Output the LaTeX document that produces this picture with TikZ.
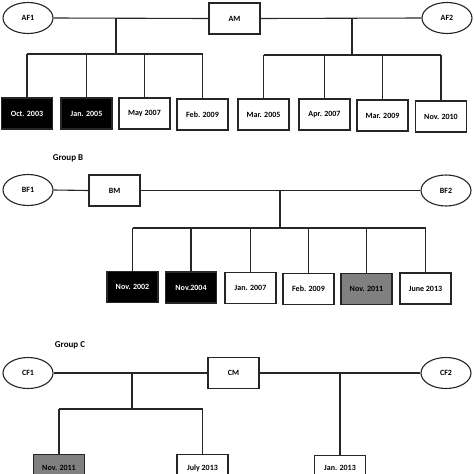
\documentclass[tikz,border=0pt]{standalone}
\usepackage{fontspec}
\setmainfont{Carlito}
\usetikzlibrary{shapes.geometric}
\begin{document}
\begin{tikzpicture}[x=1pt,y=-1pt,
  lw/.style={line width=1.1pt, draw=black!85},
  box/.style={lw, rectangle, minimum width=51pt, minimum height=31pt, inner sep=0pt, font=\bfseries\fontsize{8}{9.5}\selectfont, fill=white},
  dark/.style={box, fill=black, text=white},
  grey/.style={box, fill=black!50, text=black},
  fem/.style={lw, ellipse, minimum width=50pt, minimum height=31pt, inner sep=0pt, font=\bfseries\fontsize{8}{9.5}\selectfont},
  grp/.style={font=\bfseries\fontsize{9}{11}\selectfont},
  conn/.style={lw}]
\useasboundingbox (0,0) rectangle (474,474);
\clip (0,0) rectangle (474,474);
% ---------- Group A ----------
\node[fem] (af1) at (28,18) {AF1};
\node[box] (am) at (234.5,18.5) {AM};
\node[fem] (af2) at (447,18) {AF2};
\draw[conn] (af1.east) -- (am.west);
\draw[conn] (am.east) -- (af2.west);
\node[dark] (a1) at (27,113.5) {Oct. 2003};
\node[dark] (a2) at (86.5,113.5) {Jan. 2005};
\node[box] (a3) at (144.5,113.5) {May 2007};
\node[box] (a4) at (202.5,114.5) {Feb. 2009};
\node[box] (a5) at (263.5,114.5) {Mar. 2005};
\node[box] (a6) at (324.5,114.5) {Apr. 2007};
\node[box] (a7) at (382.5,115.5) {Mar. 2009};
\node[box] (a8) at (441,116.5) {Nov. 2010};
\coordinate (aj1) at (116,18);
\coordinate (ab1) at (116,54);
\coordinate (aj2) at (352,18);
\coordinate (ab2) at (352,55);
\draw[conn] (aj1) -- (ab1);
\draw[conn] (aj2) -- (ab2);
\draw[conn] (a1.north |- ab1) -- (a4.north |- ab1);
\draw[conn] (a5.north |- ab2) -- (a8.north |- ab2);
\foreach \c in {a1,a2,a3,a4} \draw[conn] (\c.north) -- (\c.north |- ab1);
\foreach \c in {a5,a6,a7,a8} \draw[conn] (\c.north) -- (\c.north |- ab2);
% ---------- Group B ----------
\node[grp] (gb) at (68,158) {Group B};
\node[fem] (bf1) at (28,190) {BF1};
\node[box] (bm) at (114.5,190.5) {BM};
\node[fem] (bf2) at (446,190.5) {BF2};
\draw[conn] (bf1.east) -- (bm.west);
\draw[conn] (bm.east) -- (bf2.west);
\node[dark] (b1) at (132.5,287) {Nov. 2002};
\node[dark] (b2) at (191,287.5) {Nov.2004};
\node[box] (b3) at (250.5,288) {Jan. 2007};
\node[box] (b4) at (308.5,289) {Feb. 2009};
\node[grey] (b5) at (366.5,289) {Nov. 2011};
\node[box] (b6) at (425.5,288.5) {June 2013};
\coordinate (bj) at (280,190.5);
\coordinate (bb) at (280,228);
\draw[conn] (bj) -- (bb);
\draw[conn] (b1.north |- bb) -- (b6.north |- bb);
\foreach \c in {b1,b2,b3,b4,b5,b6} \draw[conn] (\c.north) -- (\c.north |- bb);
% ---------- Group C ----------
\node[grp] (gc) at (70,345) {Group C};
\node[fem] (cf1) at (28,373) {CF1};
\node[box] (cm) at (233.5,373) {CM};
\node[fem] (cf2) at (446,373) {CF2};
\draw[conn] (cf1.east) -- (cm.west);
\draw[conn] (cm.east) -- (cf2.west);
\node[grey] (c1) at (59,470) {\raisebox{5pt}{Nov. 2011}};
\node[box] (c2) at (202.5,470) {\raisebox{5pt}{July 2013}};
\node[box] (c3) at (340,471) {\raisebox{6pt}{Jan. 2013}};
\coordinate (cj1) at (132,373);
\coordinate (cb1) at (132,409);
\coordinate (cj2) at (340,373);
\draw[conn] (cj1) -- (cb1);
\draw[conn] (c1.north |- cb1) -- (c2.north |- cb1);
\foreach \c in {c1,c2} \draw[conn] (\c.north) -- (\c.north |- cb1);
\draw[conn] (cj2) -- (c3.north);
\end{tikzpicture}
\end{document}
